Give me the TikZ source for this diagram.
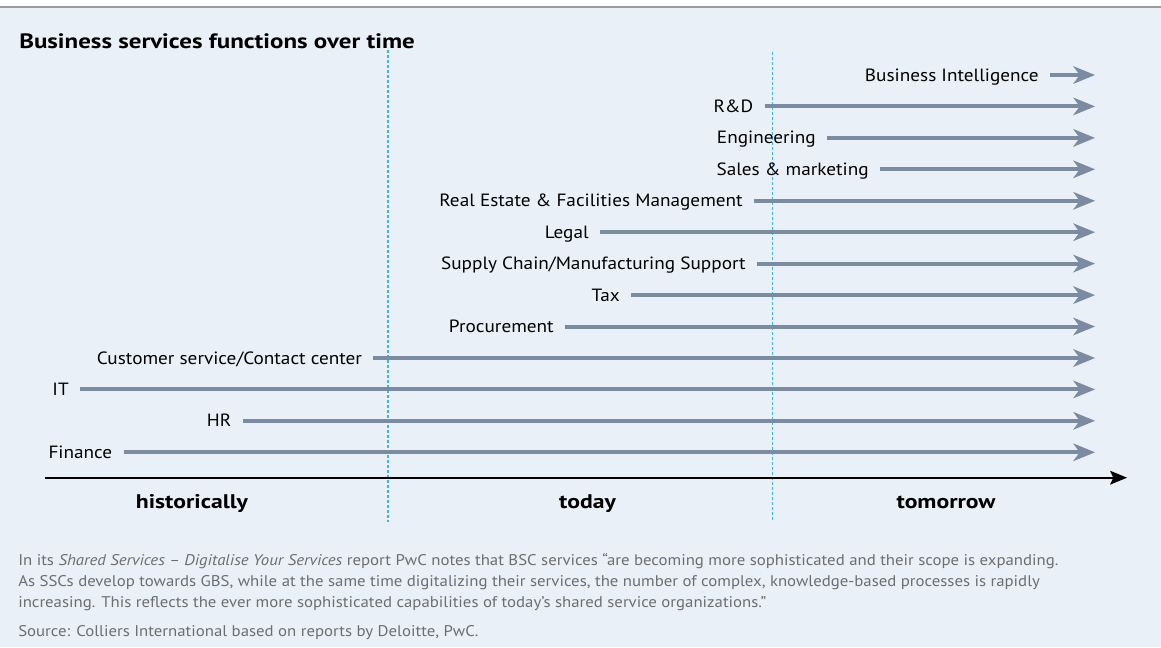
\documentclass[tikz,border=0pt]{standalone}
\usepackage{fontspec}
\setmainfont{PT Sans}[FakeStretch=1.085,BoldFeatures={FakeStretch=1.2},ItalicFeatures={FakeStretch=1.085}]
\usetikzlibrary{arrows.meta}
\definecolor{bgblue}{HTML}{E9F0F7}
\definecolor{garrow}{HTML}{7A8BA2}
\definecolor{dotcyan}{HTML}{3BB4E6}
\definecolor{foot}{HTML}{6D6E70}
\definecolor{topline}{HTML}{9B9B9B}
\tikzset{
  rowlabel/.style={anchor=east,inner sep=0pt,text height=0.9em,text depth=0pt,font=\fontsize{13.3pt}{15pt}\selectfont,text=black},
  rowarrow/.style={draw=garrow,line width=3pt,shorten <=8.25pt,-{Stealth[length=16.5pt,width=13.5pt,inset=5pt,line width=0pt]}},
  axisarrow/.style={draw=black,line width=1.6pt,-{Stealth[length=12.75pt,width=10.5pt,inset=2.5pt,line width=0pt]}},
  divider/.style={draw=dotcyan,line width=1.4pt,dash pattern=on 2.25pt off 1.5pt},
  axislabel/.style={anchor=base,inner sep=0pt,font=\bfseries\fontsize{14.8pt}{16pt}\selectfont},
  footline/.style={anchor=base west,inner sep=0pt,text=foot,font=\fontsize{11.6pt}{14pt}\selectfont},
}
\begin{document}
\begin{tikzpicture}[x=0.75pt,y=-0.75pt]
\useasboundingbox (0,0) rectangle (1161,647);
\fill[white] (0,0) rectangle (1161,647);
\fill[bgblue] (0,7) rectangle (1161,647);
\draw[topline,line width=1.5pt] (0,7) -- (1161,7);
% title
\node[anchor=base west,inner sep=0pt,font=\bfseries\fontsize{15.6pt}{18pt}\selectfont] (title) at (19,48.3) {Business services functions over time};
% dividers
\coordinate (d1top) at (388,50);
\coordinate (d1bot) at (388,522);
\coordinate (d2top) at (772.5,52);
\coordinate (d2bot) at (772.5,522);
\draw[divider] (d1top) -- (d1bot);
\draw[divider] (d2top) -- (d2bot);
% axis
\coordinate (axstart) at (45,477.7);
\coordinate (axend) at (1127,477.7);
\draw[axisarrow] (axstart) -- (axend);
\node[axislabel] (hist) at (192,508.3) {historically};
\node[axislabel] (today) at (587.5,508.3) {today};
\node[axislabel] (tomo) at (946,508.3) {tomorrow};
% rows: label placed 11px left of line start
\foreach \name/\txt/\xs/\yy in {
  bi/{Business Intelligence}/1050/75,
  rd/{R\&D}/764.5/106.4,
  eng/{Engineering}/827/137.9,
  sales/{Sales \& marketing}/880/169.3,
  re/{Real Estate \& Facilities Management}/754/200.8,
  legal/{Legal}/600/232.2,
  sc/{Supply Chain/Manufacturing Support}/757/263.6,
  tax/{Tax}/631/295.1,
  proc/{Procurement}/565/326.5,
  cs/{Customer service/Contact center}/373.3/358,
  it/{IT}/80/389.4,
  hr/{HR}/242.5/420.8,
  fin/{Finance}/123.5/452.3}{
  \node[rowlabel] (\name) at (\xs-11,\yy) {\txt};
  \coordinate (\name-tip) at (1095,\yy);
  \draw[rowarrow] (\name.east) -- (\name-tip);
}
% footer
\node[footline] (f1) at (18,565.7) {In its \textit{Shared Services – Digitalise Your Services} report PwC notes that BSC services “are becoming more sophisticated and their scope is expanding.};
\node[footline] (f2) at (18,586.5) {As SSCs develop towards GBS, while at the same time digitalizing their services, the number of complex, knowledge-based processes is rapidly};
\node[footline] (f3) at (18,607.3) {increasing. This reflects the ever more sophisticated capabilities of today’s shared service organizations.”};
\node[footline] (src) at (18,636.7) {Source: Colliers International based on reports by Deloitte, PwC.};
\end{tikzpicture}
\end{document}
